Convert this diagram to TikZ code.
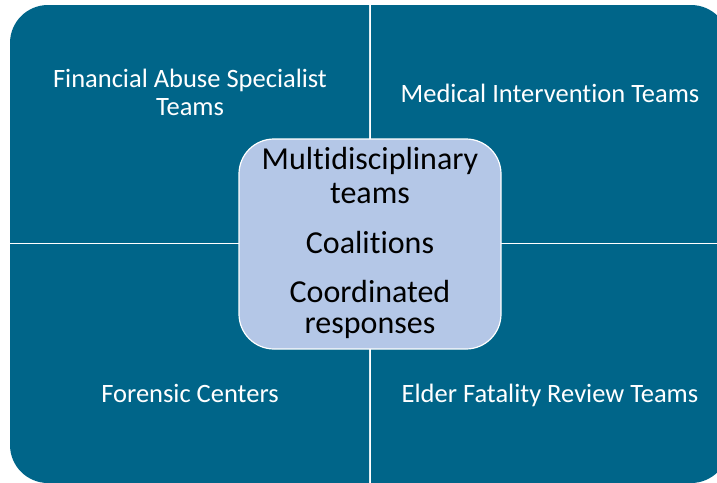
\documentclass[tikz,border=0pt]{standalone}
\usepackage{fontspec}
\setmainfont{Carlito}[Ligatures=NoCommon]
\definecolor{quad}{RGB}{0,101,137}
\definecolor{hub}{RGB}{180,199,231}
\begin{document}
\begin{tikzpicture}[x=1pt,y=-1pt,
  quadtext/.style={text=white,font=\fontsize{26.5}{28.5}\selectfont,anchor=base,inner sep=0pt},
  hubtext/.style={text=black,font=\fontsize{32}{34}\selectfont,anchor=base,inner sep=0pt},
  quadfill/.style={fill=quad,rounded corners=38pt}]
\useasboundingbox (0,0) rectangle (717,482);
\clip (0,0) rectangle (717,482);
% quadrants
\begin{scope}\clip (10,5) rectangle (369,242); \fill[quadfill] (10,5) rectangle (469,342); \end{scope}
\begin{scope}\clip (371,5) rectangle (729,242); \fill[quadfill] (271,5) rectangle (729,342); \end{scope}
\begin{scope}\clip (10,244) rectangle (369,483); \fill[quadfill] (10,144) rectangle (469,483); \end{scope}
\begin{scope}\clip (371,244) rectangle (729,483); \fill[quadfill] (271,144) rectangle (729,483); \end{scope}
% quadrant labels
\node[quadtext] (fa1) at (190,87) {Financial Abuse Specialist};
\node[quadtext] (fa2) at (190,115) {Teams};
\node[quadtext] (mi) at (550,102) {Medical Intervention Teams};
\node[quadtext] (fc) at (190,402) {Forensic Centers};
\node[quadtext] (ef) at (550,402) {Elder Fatality Review Teams};
% hub
\node[draw=white,line width=1.2pt,fill=hub,rounded corners=35pt,
      minimum width=262pt,minimum height=210pt,inner sep=0pt] (hub) at (370,244) {};
\node[hubtext] (h1) at (370,169) {Multidisciplinary};
\node[hubtext] (h2) at (370,203) {teams};
\node[hubtext] (h3) at (370,253) {Coalitions};
\node[hubtext] (h4) at (370,302) {Coordinated};
\node[hubtext] (h5) at (370,333) {responses};
\end{tikzpicture}
\end{document}
